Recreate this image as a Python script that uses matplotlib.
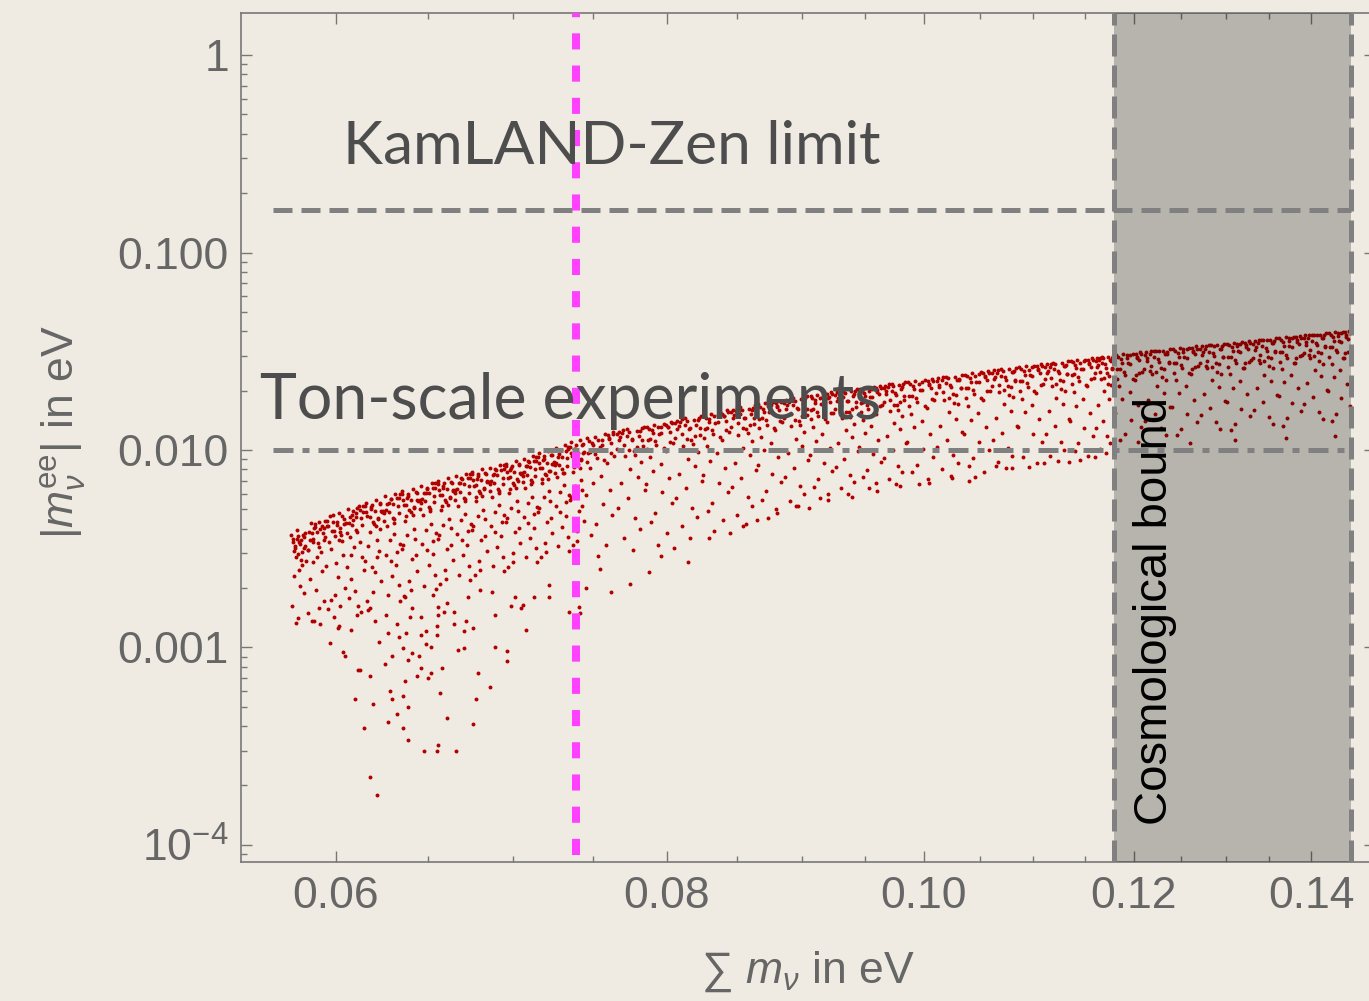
import matplotlib.pyplot as plt
from matplotlib.ticker import FixedLocator, FixedFormatter, NullFormatter, LogLocator

# -----------------------------
# Scatter points, in meV: (sum m_nu, |m_ee|)
# -----------------------------
band_left = [
    (57.82, 3.55), (58.31, 3.71), (57.95, 2.88), (58.12, 3.42), (58.44, 3.80), (57.88, 2.31), (58.05, 3.66),
    (58.27, 2.62), (57.79, 1.62), (58.38, 3.18), (58.01, 3.93), (58.19, 2.05), (57.91, 3.27), (58.47, 2.74),
    (58.09, 1.41), (58.23, 3.52), (57.85, 3.09), (58.35, 1.88), (58.14, 2.48), (57.98, 1.33),
    (58.93, 4.21), (58.61, 3.86), (59.37, 4.05), (59.08, 3.37), (58.72, 4.28), (59.44, 3.61), (58.85, 2.72),
    (59.19, 3.98), (58.56, 3.12), (59.28, 2.45), (58.99, 1.95), (59.12, 4.33), (58.67, 2.21), (59.41, 1.72),
    (58.81, 3.55), (59.25, 3.03), (58.59, 1.49), (59.03, 2.86), (59.33, 3.79), (58.77, 1.36), (59.16, 1.58),
    (58.90, 4.02),
    (59.71, 4.62), (60.18, 4.79), (59.56, 4.11), (60.42, 4.45), (59.93, 3.88), (60.07, 4.31), (59.64, 3.41),
    (60.29, 3.72), (59.84, 4.70), (60.36, 2.95), (59.52, 2.58), (60.11, 2.27), (59.78, 3.15), (60.47, 2.01),
    (59.97, 1.84), (60.24, 4.04), (59.61, 1.57), (60.02, 2.69), (59.89, 1.43), (60.33, 3.46), (59.74, 1.74),
    (60.15, 1.29),
    (60.63, 5.02), (61.21, 5.18), (60.88, 4.66), (61.44, 4.87), (60.55, 4.28), (61.06, 3.95), (61.32, 4.52),
    (60.74, 3.61), (61.13, 5.11), (60.96, 3.22), (61.39, 2.87), (60.59, 2.56), (61.27, 3.41), (60.81, 2.21),
    (61.02, 1.93), (61.47, 2.48), (60.69, 1.79), (61.17, 1.62), (60.92, 4.43), (61.36, 1.51), (60.78, 2.95),
    (61.09, 4.79),
    (61.58, 5.41), (62.13, 5.59), (61.86, 5.02), (62.38, 5.33), (61.67, 4.61), (62.04, 4.22), (62.46, 4.85),
    (61.79, 3.86), (62.21, 3.52), (61.94, 5.27), (62.31, 3.09), (61.53, 2.73), (62.09, 2.41), (61.72, 3.28),
    (62.42, 2.18), (61.99, 1.92), (62.26, 4.48), (61.63, 1.71), (62.17, 2.86), (61.83, 1.58), (62.35, 3.97),
    (61.90, 2.55),
    (62.61, 5.82), (63.19, 5.97), (62.84, 5.36), (63.41, 5.71), (62.53, 4.92), (63.07, 4.53), (63.33, 5.18),
    (62.72, 4.11), (63.14, 3.76), (62.97, 5.64), (63.46, 3.33), (62.66, 2.94), (63.24, 2.62), (62.89, 3.49),
    (63.02, 2.31), (63.38, 2.07), (62.58, 4.78), (63.29, 3.05), (62.78, 1.84), (63.11, 4.29), (62.93, 2.73),
    (63.44, 1.72),
    (63.57, 6.19), (64.16, 6.36), (63.82, 5.72), (64.37, 6.08), (63.66, 5.27), (64.03, 4.84), (64.45, 5.52),
    (63.74, 4.39), (64.22, 3.98), (63.91, 6.01), (64.29, 3.55), (63.54, 3.14), (64.11, 2.79), (63.86, 3.71),
    (64.41, 2.45), (63.97, 2.18), (64.25, 5.08), (63.62, 3.29), (64.07, 1.96), (63.78, 4.61), (64.33, 2.93),
    (63.69, 1.83),
    (64.64, 6.58), (65.22, 6.77), (64.87, 6.09), (65.43, 6.45), (64.56, 5.59), (65.08, 5.13), (65.35, 5.86),
    (64.75, 4.67), (65.16, 4.24), (64.98, 6.38), (65.47, 3.78), (64.69, 3.34), (65.27, 2.96), (64.91, 3.95),
    (65.04, 2.61), (65.39, 2.32), (64.59, 5.41), (65.31, 3.48), (64.81, 2.05), (65.13, 4.93), (64.95, 3.12),
    (65.45, 1.97),
    (65.59, 6.97), (66.14, 7.18), (65.84, 6.45), (66.38, 6.84), (65.68, 5.93), (66.05, 5.44), (66.46, 6.21),
    (65.76, 4.95), (66.23, 4.49), (65.93, 6.77), (66.31, 4.01), (65.55, 3.55), (66.09, 3.14), (65.88, 4.19),
    (66.42, 2.78), (65.98, 2.46), (66.27, 5.73), (65.63, 3.69), (66.02, 2.21), (65.80, 5.21), (66.35, 3.31),
    (65.71, 2.09),
    (66.62, 7.37), (67.20, 7.58), (66.86, 6.81), (67.42, 7.22), (66.54, 6.26), (67.06, 5.74), (67.34, 6.56),
    (66.73, 5.23), (67.15, 4.74), (66.97, 7.14), (67.48, 4.23), (66.67, 3.74), (67.26, 3.31), (66.90, 4.42),
    (67.03, 2.93), (67.39, 2.60), (66.58, 6.05), (67.30, 3.89), (66.79, 2.34), (67.11, 5.51), (66.94, 3.49),
    (67.45, 2.20),
    (67.57, 7.76), (68.15, 7.98), (67.83, 7.17), (68.37, 7.60), (67.66, 6.59), (68.04, 6.04), (68.45, 6.90),
    (67.75, 5.50), (68.22, 4.99), (67.92, 7.52), (68.30, 4.45), (67.53, 3.94), (68.10, 3.49), (67.87, 4.65),
    (68.41, 3.09), (67.97, 2.74), (68.26, 6.37), (67.61, 4.10), (68.01, 2.46), (67.79, 5.80), (68.34, 3.68),
    (67.70, 2.32),
    (68.63, 8.15), (69.21, 8.38), (68.85, 7.53), (69.43, 7.98), (68.55, 6.92), (69.07, 6.34), (69.36, 7.25),
    (68.74, 5.78), (69.17, 5.24), (68.96, 7.90), (69.47, 4.67), (68.68, 4.14), (69.28, 3.66), (68.91, 4.88),
    (69.03, 3.24), (69.39, 2.88), (68.59, 6.69), (69.31, 4.30), (68.80, 2.58), (69.12, 6.09), (68.93, 3.86),
    (69.45, 2.44),
    (69.58, 8.54), (70.16, 8.78), (69.82, 7.89), (70.37, 8.36), (69.67, 7.25), (70.04, 6.64), (70.46, 7.59),
    (69.76, 6.05), (70.23, 5.49), (69.93, 8.27), (70.31, 4.90), (69.54, 4.33), (70.10, 3.84), (69.88, 5.11),
    (70.42, 3.40), (69.98, 3.02), (70.27, 7.00), (69.62, 4.51), (70.02, 2.71), (69.79, 6.38), (70.34, 4.05),
    (69.71, 2.55),
    (70.64, 9.02), (71.21, 9.28), (70.86, 8.34), (71.43, 8.83), (70.56, 7.66), (71.07, 7.02), (71.35, 8.02),
    (70.74, 6.39), (71.16, 5.80), (70.95, 8.74), (71.47, 5.17), (70.68, 4.58), (71.27, 4.05), (70.90, 5.40),
    (71.03, 3.59), (71.39, 3.19), (70.60, 7.40), (71.30, 4.76), (70.80, 2.86), (71.12, 6.74), (70.93, 4.27),
    (71.45, 2.70),
    (71.59, 9.60), (72.15, 9.87), (71.84, 8.88), (72.38, 9.40), (71.67, 8.15), (72.04, 7.47), (72.46, 8.53),
    (71.76, 6.80), (72.22, 6.17), (71.92, 9.30), (72.30, 5.50), (71.54, 4.87), (72.10, 4.31), (71.88, 5.75),
    (72.42, 3.82), (71.97, 3.40), (72.26, 7.87), (71.62, 5.07), (72.01, 3.05), (71.79, 7.17), (72.34, 4.54),
    (71.70, 2.87),
    (72.63, 10.28), (73.21, 10.57), (72.85, 9.51), (73.42, 10.06), (72.55, 8.73), (73.06, 8.00), (73.36, 9.14),
    (72.74, 7.28), (73.17, 6.61), (72.96, 9.96), (73.48, 5.89), (72.68, 5.22), (73.27, 4.62), (72.90, 6.16),
    (73.02, 4.09), (73.39, 3.64), (72.59, 8.43), (73.30, 5.43), (72.80, 3.27), (73.12, 7.68), (72.93, 4.86),
    (73.45, 3.08),
    (73.58, 10.96), (74.16, 11.27), (73.83, 10.14), (74.37, 10.73), (73.66, 9.31), (74.04, 8.53), (74.46, 9.74),
    (73.76, 7.76), (74.23, 7.05), (73.93, 10.62), (74.31, 6.28), (73.54, 5.56), (74.10, 4.92), (73.88, 6.57),
    (74.42, 4.36), (73.97, 3.88), (74.26, 8.99), (73.62, 5.79), (74.02, 3.48), (73.79, 8.19), (74.34, 5.18),
    (73.71, 3.29),
]

# sparse points below the band on the left
tail_left = [
    (60.1, 1.25), (59.7, 1.05), (60.4, 0.95), (60.5, 0.91), (60.8, 1.23), (61.3, 0.77), (61.2, 0.77),
    (61.0, 0.55), (61.5, 0.39), (62.3, 1.06), (61.8, 0.72), (62.0, 0.52), (61.8, 0.22), (62.2, 0.18),
    (62.1, 1.36), (63.3, 1.32), (62.8, 1.18), (63.4, 1.13), (62.6, 0.82), (63.0, 0.91), (62.9, 0.60),
    (63.0, 0.55), (62.8, 0.42), (63.3, 0.46), (64.0, 1.43), (63.8, 1.18), (64.1, 0.94), (63.6, 0.99),
    (63.9, 0.86), (63.7, 0.68), (63.6, 0.57), (63.9, 0.50), (63.6, 0.39), (63.9, 0.34), (64.4, 0.72),
    (64.6, 1.43), (64.9, 1.21), (65.5, 1.16), (65.5, 1.29), (64.6, 1.16), (64.5, 0.91), (64.9, 1.04),
    (65.2, 1.01), (64.6, 0.79), (65.0, 0.70), (65.2, 0.74), (64.8, 0.30), (65.5, 0.30), (65.6, 1.46),
    (66.5, 1.32), (65.9, 1.51), (66.5, 1.51), (65.8, 0.79), (65.7, 0.59), (65.6, 0.32), (66.1, 0.44),
    (67.1, 1.21), (67.2, 1.36), (66.7, 0.97), (67.1, 0.99), (67.6, 0.41), (66.6, 0.30), (67.6, 1.25),
    (67.9, 0.74), (67.8, 0.55), (68.9, 1.46), (68.9, 1.01), (68.6, 0.63), (69.6, 0.85), (69.6, 0.96),
    (69.9, 1.62), (70.5, 1.59), (70.6, 1.65), (70.8, 1.23), (71.3, 1.80), (72.2, 1.80), (73.5, 1.51),
    (74.1, 1.60), (74.2, 1.50), (59.2, 1.32), (58.9, 1.36), (60.2, 1.62), (61.1, 1.46), (61.7, 1.55),
    (62.7, 1.46), (63.7, 1.80), (64.1, 1.59), (65.3, 1.84), (66.1, 1.68), (65.6, 1.60), (67.3, 1.80),
    (68.0, 1.95), (68.7, 1.91), (70.1, 1.80), (72.2, 2.07),
]

band_mid = [
    (74.62, 11.45), (75.81, 12.1), (75.13, 11.6), (76.35, 12.3), (74.97, 10.9), (76.08, 11.5), (75.46, 10.4),
    (74.71, 9.7), (76.22, 10.8), (75.29, 9.1), (75.93, 8.6), (74.83, 8.1), (76.44, 9.3), (75.57, 7.4),
    (75.02, 6.8), (76.14, 6.3), (74.55, 5.9), (75.69, 5.3), (76.31, 4.7), (75.21, 4.2), (74.90, 3.7),
    (75.88, 3.3), (75.38, 2.9), (76.01, 11.9), (74.78, 11.1), (75.64, 11.3),
    (78.42, 13.1), (77.27, 12.8), (77.94, 12.55), (76.73, 12.3), (78.08, 11.8), (76.96, 12.2), (77.59, 11.3),
    (78.34, 10.5), (76.81, 11.6), (77.76, 9.9), (77.12, 9.3), (78.21, 8.7), (76.59, 10.1), (77.48, 8.0),
    (78.02, 7.3), (76.89, 6.8), (78.48, 6.3), (77.37, 5.7), (76.67, 5.1), (77.84, 4.5), (78.14, 4.0),
    (77.05, 3.6), (77.67, 3.1), (77.03, 12.6), (78.26, 12.9), (77.41, 12.3),
    (78.63, 13.15), (79.78, 13.6), (79.12, 13.35), (80.29, 13.9), (78.95, 12.6), (80.06, 13.0), (79.43, 12.0),
    (78.69, 11.2), (80.21, 12.4), (79.26, 10.6), (79.91, 9.9), (78.82, 9.2), (80.43, 10.8), (79.57, 8.5),
    (79.03, 7.8), (80.14, 7.2), (78.56, 6.7), (79.66, 6.1), (80.36, 5.4), (79.19, 4.8), (78.88, 4.3),
    (79.98, 3.8), (79.37, 3.3), (79.94, 13.4), (78.77, 12.8), (79.62, 13.1),
    (82.39, 14.9), (81.26, 14.5), (81.92, 14.2), (80.69, 14.0), (82.07, 13.4), (80.95, 13.9), (81.56, 12.8),
    (82.32, 11.9), (80.82, 13.2), (81.73, 11.2), (81.11, 10.5), (82.16, 9.8), (80.58, 11.5), (81.45, 9.0),
    (81.99, 8.3), (80.88, 7.6), (82.46, 7.0), (81.33, 6.4), (80.63, 5.7), (81.80, 5.1), (82.13, 4.6),
    (81.04, 4.1), (81.65, 3.6), (81.07, 14.3), (82.24, 14.6), (81.40, 14.0),
    (82.64, 15.0), (83.79, 15.5), (83.11, 15.2), (84.26, 15.9), (82.96, 14.3), (84.08, 14.8), (83.42, 13.7),
    (82.71, 12.7), (84.19, 14.1), (83.25, 12.0), (83.92, 11.2), (82.83, 10.5), (84.44, 12.3), (83.58, 9.6),
    (83.04, 8.8), (84.13, 8.1), (82.57, 7.5), (83.69, 6.8), (84.34, 6.1), (83.22, 5.4), (82.89, 4.9),
    (83.98, 4.4), (83.36, 3.9), (83.95, 15.3), (82.78, 14.6), (83.63, 15.0),
    (86.38, 16.9), (85.23, 16.5), (85.91, 16.2), (84.72, 16.0), (86.06, 15.2), (84.93, 15.8), (85.55, 14.6),
    (86.30, 13.5), (84.80, 15.0), (85.72, 12.7), (85.10, 11.9), (86.15, 11.1), (84.57, 13.1), (85.44, 10.2),
    (85.98, 9.4), (84.85, 8.6), (86.45, 7.9), (85.33, 7.2), (84.64, 6.5), (85.81, 5.8), (86.11, 5.2),
    (85.03, 4.7), (85.66, 4.2), (85.06, 16.3), (86.21, 16.4), (85.38, 16.0),
    (86.63, 17.0), (87.76, 17.4), (87.12, 17.2), (88.29, 17.8), (86.95, 16.1), (88.06, 16.7), (87.43, 15.5),
    (86.69, 14.3), (88.21, 15.9), (87.27, 13.4), (87.90, 12.6), (86.83, 11.7), (88.42, 13.9), (87.55, 10.8),
    (87.03, 10.0), (88.13, 9.2), (86.56, 8.4), (87.66, 7.6), (88.35, 6.9), (87.20, 6.2), (86.88, 5.6),
    (87.98, 5.0), (87.36, 4.5), (87.95, 17.3), (86.78, 16.6), (87.61, 16.9),
    (90.39, 18.7), (89.25, 18.3), (89.90, 18.1), (88.73, 17.9), (90.07, 17.0), (88.95, 17.6), (89.56, 16.3),
    (90.32, 15.1), (88.81, 16.8), (89.74, 14.1), (89.12, 13.2), (90.16, 12.3), (88.59, 14.6), (89.46, 11.4),
    (89.99, 10.5), (88.88, 9.7), (90.45, 8.9), (89.35, 8.1), (88.65, 7.3), (89.79, 6.6), (90.13, 6.0),
    (89.03, 5.5), (89.65, 5.2), (89.07, 18.2), (90.23, 18.3), (89.39, 17.8),
    (90.64, 18.8), (91.78, 19.2), (91.11, 19.0), (92.27, 19.6), (90.96, 17.9), (92.07, 18.5), (91.43, 17.1),
    (90.71, 15.9), (92.20, 17.6), (91.25, 14.8), (91.91, 13.9), (90.82, 13.0), (92.44, 15.4), (91.57, 12.0),
    (91.03, 11.1), (92.15, 10.2), (90.57, 9.4), (91.68, 8.6), (92.36, 7.8), (91.22, 7.1), (90.90, 6.5),
    (91.99, 6.0), (91.37, 5.7), (91.96, 19.1), (90.79, 18.4), (91.63, 18.7),
    (94.38, 20.4), (93.23, 20.0), (93.91, 19.8), (92.72, 19.6), (94.05, 18.7), (92.94, 19.3), (93.56, 17.8),
    (94.31, 16.6), (92.79, 18.4), (93.73, 15.5), (93.11, 14.5), (94.16, 13.6), (92.57, 16.1), (93.44, 12.6),
    (93.98, 11.7), (92.86, 10.8), (94.45, 9.9), (93.34, 9.0), (92.63, 8.2), (93.80, 7.5), (94.12, 6.9),
    (93.03, 6.4), (93.65, 6.0), (93.06, 19.9), (94.21, 20.0), (93.39, 19.5),
    (94.63, 20.4), (95.76, 20.8), (95.12, 20.6), (96.29, 21.2), (94.94, 19.5), (96.05, 20.1), (95.43, 18.6),
    (94.70, 17.3), (96.19, 19.2), (95.26, 16.2), (95.90, 15.2), (94.83, 14.2), (96.42, 16.8), (95.55, 13.2),
    (95.01, 12.2), (96.13, 11.3), (94.56, 10.4), (95.67, 9.5), (96.35, 8.7), (95.21, 7.9), (94.87, 7.3),
    (95.98, 6.8), (95.36, 6.4), (95.95, 20.7), (94.78, 20.0), (95.62, 20.3),
    (98.39, 22.0), (97.26, 21.6), (97.90, 21.4), (96.73, 21.2), (98.07, 20.3), (96.93, 20.9), (97.55, 19.4),
    (98.32, 18.0), (96.80, 19.9), (97.72, 16.9), (97.08, 15.8), (98.15, 14.8), (96.59, 17.5), (97.46, 13.7),
    (97.98, 12.7), (96.88, 11.8), (98.46, 10.9), (97.36, 10.0), (96.64, 9.1), (97.81, 8.3), (98.11, 7.7),
    (97.03, 7.1), (97.63, 6.7), (97.04, 21.5), (98.23, 21.6), (97.40, 21.1),
]

band_right = [
    (98.66, 22.0), (100.08, 22.5), (99.28, 22.3), (100.74, 23.0), (99.06, 21.1), (100.44, 21.7), (99.66, 20.1),
    (98.75, 18.7), (100.63, 20.6), (99.45, 17.5), (100.25, 16.3), (98.94, 15.2), (100.91, 18.0), (99.82, 14.1),
    (99.16, 13.0), (100.55, 12.0), (98.58, 11.0), (99.96, 10.1), (100.83, 9.2), (99.38, 8.4), (99.00, 7.7),
    (100.36, 7.1), (99.58, 6.7), (100.33, 22.4), (98.85, 21.7), (99.89, 22.1),
    (103.34, 24.0), (101.92, 23.5), (102.72, 23.5), (101.26, 23.1), (102.94, 22.6), (101.56, 22.5),
    (102.34, 21.4), (103.25, 20.6), (101.37, 21.4), (102.55, 19.2), (101.75, 18.0), (103.06, 17.0),
    (101.09, 19.4), (102.18, 15.6), (102.84, 14.4), (101.45, 13.3), (103.42, 12.3), (102.04, 11.3),
    (101.17, 10.3), (102.62, 9.4), (103.00, 8.6), (101.64, 8.0), (102.42, 7.4), (101.67, 23.3),
    (103.15, 22.9), (102.11, 23.1),
    (103.66, 24.1), (105.08, 24.7), (104.28, 24.4), (105.74, 25.2), (104.06, 23.1), (105.44, 23.8),
    (104.66, 22.0), (103.75, 20.5), (105.63, 22.6), (104.45, 19.1), (105.25, 17.9), (103.94, 16.7),
    (105.91, 19.8), (104.82, 15.4), (104.16, 14.2), (105.55, 13.1), (103.58, 12.0), (104.96, 11.0),
    (105.83, 10.0), (104.38, 9.1), (104.00, 8.3), (105.36, 7.7), (104.58, 7.3), (105.33, 24.6),
    (103.85, 23.8), (104.89, 24.3),
    (108.34, 26.1), (106.92, 25.7), (107.72, 25.6), (106.26, 25.3), (107.94, 24.7), (106.56, 24.5),
    (107.34, 23.4), (108.25, 22.5), (106.37, 23.3), (107.55, 21.0), (106.75, 19.7), (108.06, 18.5),
    (106.09, 21.1), (107.18, 17.0), (107.84, 15.7), (106.45, 14.5), (108.42, 13.3), (107.04, 12.2),
    (106.17, 11.2), (107.62, 10.2), (108.00, 9.3), (106.64, 8.7), (107.42, 8.1), (106.67, 25.4),
    (108.15, 25.0), (107.11, 25.2),
    (108.66, 26.2), (110.08, 26.7), (109.28, 26.5), (110.74, 27.2), (109.06, 25.1), (110.44, 25.8),
    (109.66, 23.9), (108.75, 22.3), (110.63, 24.6), (109.45, 20.8), (110.25, 19.5), (108.94, 18.2),
    (110.91, 21.6), (109.82, 16.8), (109.16, 15.5), (110.55, 14.3), (108.58, 13.1), (109.96, 12.0),
    (110.83, 11.0), (109.38, 10.0), (109.00, 9.2), (110.36, 8.6), (109.58, 8.2), (110.33, 26.6),
    (108.85, 25.8), (109.89, 26.3),
    (113.34, 28.1), (111.92, 27.7), (112.72, 27.6), (111.26, 27.3), (112.94, 26.6), (111.56, 26.4),
    (112.34, 25.2), (113.25, 24.2), (111.37, 25.1), (112.55, 22.7), (111.75, 21.2), (113.06, 19.9),
    (111.09, 22.8), (112.18, 18.4), (112.84, 17.0), (111.45, 15.7), (113.42, 14.4), (112.04, 13.2),
    (111.17, 12.1), (112.62, 11.0), (113.00, 10.0), (111.64, 9.3), (112.42, 8.8), (111.67, 27.4),
    (113.15, 27.0), (112.11, 27.2),
    (113.66, 28.2), (115.08, 28.7), (114.28, 28.5), (115.74, 29.2), (114.06, 27.0), (115.44, 27.7),
    (114.66, 25.7), (113.75, 24.0), (115.63, 26.4), (114.45, 22.4), (115.25, 21.0), (113.94, 19.6),
    (115.91, 23.2), (114.82, 18.1), (114.16, 16.7), (115.55, 15.4), (113.58, 14.1), (114.96, 12.9),
    (115.83, 11.8), (114.38, 10.8), (114.00, 9.9), (115.36, 9.3), (114.58, 8.9), (115.33, 28.6),
    (113.85, 27.8), (114.89, 28.3),
    (117.87, 30.0), (116.74, 29.6), (117.38, 29.6), (116.21, 29.3), (117.55, 28.6), (116.45, 28.4),
    (117.07, 27.1), (117.80, 26.0), (116.30, 27.0), (117.24, 24.4), (116.60, 22.8), (117.65, 21.3),
    (116.07, 24.5), (116.94, 19.8), (117.47, 18.2), (116.36, 16.8), (117.94, 15.4), (116.83, 14.1),
    (116.14, 12.9), (117.30, 11.8), (117.60, 10.8), (116.51, 10.1), (117.14, 9.6), (116.54, 29.4),
    (117.72, 29.1), (116.89, 29.3),
]

band_cosmo = [
    (118.19, 30.2), (119.90, 30.8), (118.94, 30.6), (120.69, 31.3), (118.67, 29.0), (120.33, 29.7),
    (119.39, 27.6), (118.30, 25.8), (120.56, 28.4), (119.14, 24.1), (120.10, 22.6), (118.53, 21.1),
    (120.89, 24.9), (119.58, 19.6), (118.79, 18.1), (120.46, 16.8), (118.10, 15.4), (119.75, 14.2),
    (120.80, 13.0), (119.06, 12.0), (118.60, 11.2), (120.23, 24.0), (119.30, 30.1), (120.20, 30.6),
    (118.42, 29.6), (119.67, 30.2),
    (123.81, 32.4), (122.10, 31.8), (123.06, 31.7), (121.31, 31.4), (123.33, 30.5), (121.67, 30.5),
    (122.61, 29.0), (123.70, 27.8), (121.44, 29.3), (122.86, 25.9), (121.90, 24.3), (123.47, 22.7),
    (121.11, 25.7), (122.42, 21.1), (123.21, 19.5), (121.54, 18.0), (123.90, 16.6), (122.25, 15.3),
    (121.20, 14.0), (122.94, 12.9), (123.40, 11.9), (121.77, 25.0), (122.70, 31.6), (121.80, 31.6),
    (123.58, 31.4), (122.33, 31.7),
    (124.19, 32.4), (125.90, 33.0), (124.94, 32.8), (126.69, 33.5), (124.67, 31.1), (126.33, 31.9),
    (125.39, 29.6), (124.30, 27.7), (126.56, 30.5), (125.14, 25.9), (126.10, 24.2), (124.53, 22.6),
    (126.89, 26.7), (125.58, 21.0), (124.79, 19.4), (126.46, 18.0), (124.10, 16.5), (125.75, 15.2),
    (126.80, 13.9), (125.06, 12.8), (124.60, 11.9), (126.23, 25.7), (125.30, 32.3), (126.20, 32.8),
    (124.42, 31.8), (125.67, 32.4),
    (129.81, 34.6), (128.10, 34.0), (129.06, 33.9), (127.31, 33.6), (129.33, 32.6), (127.67, 32.6),
    (128.61, 31.0), (129.70, 29.7), (127.44, 31.3), (128.86, 27.7), (127.90, 26.0), (129.47, 24.3),
    (127.11, 27.5), (128.42, 22.6), (129.21, 20.9), (127.54, 19.3), (129.90, 17.8), (128.25, 16.4),
    (127.20, 15.0), (128.94, 13.8), (129.40, 12.7), (127.77, 26.7), (128.70, 33.8), (127.80, 33.8),
    (129.58, 33.6), (128.33, 33.9),
    (130.19, 34.6), (131.90, 35.2), (130.94, 35.0), (132.69, 35.7), (130.67, 33.2), (132.33, 34.0),
    (131.39, 31.6), (130.30, 29.6), (132.56, 32.6), (131.14, 27.7), (132.10, 25.9), (130.53, 24.2),
    (132.89, 28.5), (131.58, 22.4), (130.79, 20.7), (132.46, 19.2), (130.10, 17.6), (131.75, 16.2),
    (132.80, 14.8), (131.06, 13.6), (130.60, 12.6), (132.23, 27.5), (131.30, 34.5), (132.20, 35.0),
    (130.42, 34.0), (131.67, 34.6),
    (135.81, 36.8), (134.10, 36.2), (135.06, 36.1), (133.31, 35.8), (135.33, 34.7), (133.67, 34.7),
    (134.61, 33.0), (135.70, 31.6), (133.44, 33.3), (134.86, 29.5), (133.90, 27.6), (135.47, 25.9),
    (133.11, 29.3), (134.42, 24.1), (135.21, 22.3), (133.54, 20.6), (135.90, 19.0), (134.25, 17.4),
    (133.20, 16.0), (134.94, 14.7), (135.40, 13.5), (133.77, 28.4), (134.70, 36.0), (133.80, 36.0),
    (135.58, 35.8), (134.33, 36.1),
    (136.19, 36.8), (137.90, 37.4), (136.94, 37.2), (138.69, 37.9), (136.67, 35.3), (138.33, 36.1),
    (137.39, 33.6), (136.30, 31.5), (138.56, 34.6), (137.14, 29.4), (138.10, 27.6), (136.53, 25.8),
    (138.89, 30.4), (137.58, 23.9), (136.79, 22.1), (138.46, 20.5), (136.10, 18.8), (137.75, 17.3),
    (138.80, 15.8), (137.06, 14.5), (136.60, 13.3), (138.23, 29.3), (137.30, 36.7), (138.20, 37.2),
    (136.42, 36.2), (137.67, 36.8),
    (141.81, 39.0), (140.10, 38.4), (141.06, 38.3), (139.31, 38.0), (141.33, 36.8), (139.67, 36.8),
    (140.61, 35.0), (141.70, 33.5), (139.44, 35.3), (140.86, 31.3), (139.90, 29.3), (141.47, 27.4),
    (139.11, 31.1), (140.42, 25.5), (141.21, 23.6), (139.54, 21.8), (141.90, 20.1), (140.25, 18.5),
    (139.20, 17.0), (140.94, 15.6), (141.40, 14.3), (139.77, 30.1), (140.70, 38.2), (139.80, 38.2),
    (141.58, 38.0), (140.33, 38.3),
    (142.19, 39.0), (143.90, 39.6), (142.94, 39.4), (144.69, 40.0), (142.67, 37.4), (144.33, 38.2),
    (143.39, 35.6), (142.30, 33.4), (144.56, 36.6), (143.14, 31.2), (144.10, 29.2), (142.53, 27.3),
    (144.89, 32.2), (143.58, 25.3), (142.79, 23.4), (144.46, 21.7), (142.10, 19.9), (143.75, 18.3),
    (144.80, 16.7), (143.06, 15.3), (142.60, 14.0), (144.23, 31.0), (143.30, 38.9), (144.20, 39.4),
    (142.42, 38.4), (143.67, 39.0),
]

# extra points filling the dark strip just under the upper edge
band_top = [
    (57.80, 3.42), (58.08, 2.96), (58.36, 3.61), (57.93, 3.19), (58.23, 2.77), (57.74, 3.69), (58.43, 3.27),
    (58.00, 3.53), (58.29, 3.04), (58.16, 3.34),
    (58.84, 3.44), (59.28, 4.14), (58.58, 3.11), (59.05, 3.83), (59.43, 4.38), (58.68, 3.51), (59.14, 3.21),
    (58.93, 4.07), (59.37, 3.51), (58.76, 3.79),
    (59.62, 4.10), (59.97, 3.67), (60.33, 4.63), (59.79, 3.89), (60.16, 3.50), (59.55, 4.39), (60.41, 4.22),
    (59.88, 4.34), (60.24, 3.86), (60.07, 4.19),
    (60.84, 4.17), (61.28, 4.94), (60.58, 3.79), (61.05, 4.60), (61.43, 5.21), (60.68, 4.27), (61.14, 3.86),
    (60.93, 4.92), (61.37, 4.19), (60.76, 4.60),
    (61.62, 4.86), (61.97, 4.32), (62.33, 5.40), (61.79, 4.59), (62.16, 4.10), (61.55, 5.21), (62.41, 4.91),
    (61.88, 5.12), (62.24, 4.52), (62.07, 4.91),
    (62.84, 4.83), (63.28, 5.70), (62.58, 4.39), (63.05, 5.31), (63.43, 6.00), (62.68, 4.95), (63.14, 4.45),
    (62.93, 5.68), (63.37, 4.82), (62.76, 5.32),
    (63.62, 5.58), (63.97, 4.95), (64.33, 6.16), (63.79, 5.27), (64.16, 4.68), (63.55, 5.98), (64.41, 5.60),
    (63.88, 5.86), (64.24, 5.16), (64.07, 5.61),
    (64.84, 5.49), (65.28, 6.45), (64.58, 5.00), (65.05, 6.03), (65.43, 6.78), (64.68, 5.63), (65.14, 5.04),
    (64.93, 6.45), (65.37, 5.45), (64.76, 6.05),
    (65.62, 6.30), (65.97, 5.57), (66.33, 6.92), (65.79, 5.94), (66.16, 5.26), (65.55, 6.76), (66.41, 6.29),
    (65.88, 6.60), (66.24, 5.80), (66.07, 6.32),
    (66.84, 6.14), (67.28, 7.20), (66.58, 5.61), (67.05, 6.74), (67.43, 7.57), (66.68, 6.31), (67.14, 5.63),
    (66.93, 7.22), (67.37, 6.08), (66.76, 6.78),
    (67.62, 7.02), (67.97, 6.19), (68.33, 7.68), (67.79, 6.61), (68.16, 5.85), (67.55, 7.54), (68.41, 6.97),
    (67.88, 7.35), (68.24, 6.44), (68.07, 7.02),
    (68.84, 6.80), (69.28, 7.95), (68.58, 6.22), (69.05, 7.45), (69.43, 8.35), (68.68, 6.99), (69.14, 6.22),
    (68.93, 7.99), (69.37, 6.72), (68.76, 7.51),
    (69.62, 7.74), (69.97, 6.83), (70.33, 8.46), (69.79, 7.28), (70.16, 6.45), (69.55, 8.31), (70.41, 7.68),
    (69.88, 8.10), (70.24, 7.09), (70.07, 7.74),
    (70.84, 7.49), (71.28, 8.78), (70.58, 6.85), (71.05, 8.21), (71.43, 9.23), (70.68, 7.70), (71.14, 6.87),
    (70.93, 8.81), (71.37, 7.42), (70.76, 8.27),
    (71.62, 8.56), (71.97, 7.56), (72.33, 9.39), (71.79, 8.06), (72.16, 7.15), (71.55, 9.20), (72.41, 8.53),
    (71.88, 8.97), (72.24, 7.86), (72.07, 8.58),
    (72.84, 8.35), (73.28, 9.83), (72.58, 7.62), (73.05, 9.18), (73.43, 10.35), (72.68, 8.57), (73.14, 7.67),
    (72.93, 9.83), (73.37, 8.31), (72.76, 9.22),
    (73.62, 9.61), (73.97, 8.53), (74.33, 10.62), (73.79, 9.07), (74.16, 8.07), (73.55, 10.32), (74.41, 9.67),
    (73.88, 10.11), (74.24, 8.90), (74.07, 9.68),
    (75.18, 9.57), (76.06, 11.43), (74.66, 8.66), (75.60, 10.60), (76.36, 12.07), (74.86, 9.78), (75.78, 8.88),
    (75.36, 11.30), (76.24, 9.69), (75.02, 10.55),
    (76.74, 11.25), (77.44, 9.97), (78.16, 12.41), (77.08, 10.61), (77.82, 9.44), (76.60, 12.07), (78.32, 11.29),
    (77.26, 11.81), (77.98, 10.39), (77.64, 11.32),
    (79.18, 11.08), (80.06, 13.07), (78.66, 10.09), (79.60, 12.19), (80.36, 13.76), (78.86, 11.36),
    (79.78, 10.20), (79.36, 13.05), (80.24, 11.04), (79.02, 12.22),
    (80.74, 12.79), (81.44, 11.35), (82.16, 14.15), (81.08, 12.08), (81.82, 10.75), (80.60, 13.73),
    (82.32, 12.87), (81.26, 13.45), (81.98, 11.84), (81.64, 12.88),
    (83.18, 12.62), (84.06, 14.88), (82.66, 11.50), (83.60, 13.88), (84.36, 15.66), (82.86, 12.95),
    (83.78, 11.61), (83.36, 14.86), (84.24, 12.58), (83.02, 13.93),
    (84.74, 14.54), (85.44, 12.85), (86.16, 15.96), (85.08, 13.70), (85.82, 12.15), (84.60, 15.62),
    (86.32, 14.51), (85.26, 15.24), (85.98, 13.38), (85.64, 14.57),
    (87.18, 14.15), (88.06, 16.59), (86.66, 12.94), (87.60, 15.53), (88.36, 17.43), (86.86, 14.54),
    (87.78, 12.97), (87.36, 16.65), (88.24, 14.01), (87.02, 15.63),
    (88.74, 16.16), (89.44, 14.25), (90.16, 17.67), (89.08, 15.21), (89.82, 13.46), (88.60, 17.36),
    (90.32, 16.06), (89.26, 16.92), (89.98, 14.82), (89.64, 16.16),
    (91.18, 15.61), (92.06, 18.25), (90.66, 14.30), (91.60, 17.11), (92.36, 19.15), (90.86, 16.07),
    (91.78, 14.27), (91.36, 18.36), (92.24, 15.40), (91.02, 17.26),
    (92.74, 17.73), (93.44, 15.58), (94.16, 19.25), (93.08, 16.66), (93.82, 14.69), (92.60, 19.05),
    (94.32, 17.48), (93.26, 18.51), (93.98, 16.15), (93.64, 17.65),
    (95.18, 16.95), (96.06, 19.76), (94.66, 15.55), (95.60, 18.55), (96.36, 20.72), (94.86, 17.46),
    (95.78, 15.47), (95.36, 19.91), (96.24, 16.67), (95.02, 18.76),
    (96.74, 19.17), (97.44, 16.83), (98.16, 20.77), (97.08, 18.00), (97.82, 15.86), (96.60, 20.60),
    (98.32, 18.86), (97.26, 20.00), (97.98, 17.43), (97.64, 19.06),
    (99.35, 18.32), (100.45, 21.41), (98.70, 16.78), (99.88, 20.07), (100.83, 22.47), (98.95, 18.85),
    (100.10, 16.75), (99.58, 21.53), (100.68, 18.07), (99.15, 20.26),
    (101.30, 20.82), (102.18, 18.35), (103.08, 22.71), (101.73, 19.59), (102.65, 17.32), (101.13, 22.37),
    (103.28, 20.64), (101.95, 21.78), (102.85, 19.05), (102.43, 20.79),
    (104.35, 20.07), (105.45, 23.46), (103.70, 18.38), (104.88, 21.99), (105.83, 24.62), (103.95, 20.66),
    (105.10, 18.35), (104.58, 23.59), (105.68, 19.80), (104.15, 22.19),
    (106.30, 22.79), (107.18, 20.02), (108.08, 24.73), (106.73, 21.41), (107.65, 18.88), (106.13, 24.49),
    (108.28, 22.45), (106.95, 23.79), (107.85, 20.75), (107.43, 22.68),
    (109.35, 21.76), (110.45, 25.36), (108.70, 19.97), (109.88, 23.81), (110.83, 26.59), (108.95, 22.42),
    (110.10, 19.86), (109.58, 25.56), (110.68, 21.39), (109.15, 24.08),
    (111.30, 24.59), (112.18, 21.58), (113.08, 26.63), (111.73, 23.09), (112.65, 20.34), (111.13, 26.43),
    (113.28, 24.17), (111.95, 25.65), (112.85, 22.35), (112.43, 24.44),
    (114.35, 23.40), (115.45, 27.24), (113.70, 21.49), (114.88, 25.59), (115.83, 28.55), (113.95, 24.12),
    (115.10, 21.34), (114.58, 27.48), (115.68, 22.97), (114.15, 25.90),
    (116.24, 26.37), (116.94, 23.07), (117.66, 28.37), (116.58, 24.72), (117.32, 21.70), (116.10, 28.36),
    (117.82, 25.74), (116.76, 27.44), (117.48, 23.83), (117.14, 26.10),
    (119.02, 24.94), (120.34, 29.08), (118.24, 22.88), (119.65, 27.29), (120.79, 30.50), (118.54, 25.69),
    (119.92, 22.77), (119.29, 29.30), (120.61, 24.52), (118.78, 27.58),
    (121.36, 28.20), (122.41, 24.74), (123.49, 30.50), (121.87, 26.48), (122.98, 23.31), (121.15, 30.32),
    (123.73, 27.69), (122.14, 29.41), (123.22, 25.61), (122.71, 28.01),
    (125.02, 26.79), (126.34, 31.17), (124.24, 24.62), (125.65, 29.29), (126.79, 32.65), (124.54, 27.63),
    (125.92, 24.42), (125.29, 31.46), (126.61, 26.28), (124.78, 29.66),
    (127.36, 30.18), (128.41, 26.46), (129.49, 32.59), (127.87, 28.32), (128.98, 24.91), (127.15, 32.46),
    (129.73, 29.58), (128.14, 31.45), (129.22, 27.37), (128.71, 29.95),
    (131.02, 28.59), (132.34, 33.24), (130.24, 26.29), (131.65, 31.25), (132.79, 34.81), (130.54, 29.50),
    (131.92, 26.05), (131.29, 33.57), (132.61, 28.01), (130.78, 31.66),
    (133.36, 32.16), (134.41, 28.17), (135.49, 34.68), (133.87, 30.17), (134.98, 26.52), (133.15, 34.59),
    (135.73, 31.48), (134.14, 33.50), (135.22, 29.13), (134.71, 31.88),
    (137.02, 30.40), (138.34, 35.31), (136.24, 27.96), (137.65, 33.21), (138.79, 36.97), (136.54, 31.37),
    (137.92, 27.68), (137.29, 35.68), (138.61, 29.75), (136.78, 33.66),
    (139.36, 34.14), (140.41, 29.89), (141.49, 36.77), (139.87, 32.02), (140.98, 28.13), (139.15, 36.72),
    (141.73, 33.37), (140.14, 35.54), (141.22, 30.89), (140.71, 33.82),
    (143.02, 32.20), (144.34, 37.37), (142.24, 29.63), (143.65, 35.16), (144.79, 39.12), (142.54, 33.24),
    (143.92, 29.30), (143.29, 37.80), (144.61, 31.49), (142.78, 35.66),
]

# sparse points under the band, middle and right
tail_right = [
    (74.6, 2.0), (75.5, 2.5), (76.2, 1.9), (77.5, 2.1), (78.8, 2.4), (79.6, 2.9), (80.5, 3.2), (81.5, 2.7),
    (83.0, 3.6), (84.5, 3.8), (85.5, 4.1), (86.5, 4.4), (88.0, 4.8), (89.5, 5.2), (90.5, 5.1), (92.0, 5.6),
    (94.0, 5.8), (96.0, 6.2), (98.0, 6.6), (100.5, 6.8), (102.5, 7.2), (104.0, 7.0), (106.5, 8.3),
    (108.0, 8.1), (111.0, 8.6), (113.5, 8.7), (116.0, 9.2), (120.5, 11.0), (126.0, 10.9), (131.0, 11.2),
    (137.0, 11.5), (143.0, 11.8),
]

# limits / bounds (eV)
kamland_limit = 0.165
ton_scale = 0.01
cosmo_bound = 0.118
cosmo_edge = 0.145
magenta_x = 0.0739
line_start = 0.0568

x_ticks = [0.06, 0.08, 0.10, 0.12, 0.14]
x_tick_labels = ["0.06", "0.08", "0.10", "0.12", "0.14"]
x_minor = [0.065, 0.07, 0.075, 0.085, 0.09, 0.095, 0.105, 0.11, 0.115, 0.125, 0.13, 0.135, 0.145]
y_ticks = [1e-4, 1e-3, 1e-2, 1e-1, 1]
y_tick_labels = [r"$10^{-4}$", "0.001", "0.010", "0.100", "1"]

# -----------------------------
# Style
# -----------------------------
bg = "#efebe2"
tick_col = "#666666"
line_gray = "#808080"
plt.rcParams["font.family"] = ["Liberation Sans", "DejaVu Sans"]
plt.rcParams["mathtext.fontset"] = "custom"
plt.rcParams["mathtext.rm"] = "Liberation Sans"
plt.rcParams["mathtext.it"] = "Liberation Sans:italic"

fig = plt.figure(figsize=(13.69, 10.01), dpi=100, facecolor=bg)
ax = fig.add_axes([0.1763, 0.1389, 0.8281, 0.8485])
ax.set_facecolor(bg)
ax.set_xscale("log")
ax.set_yscale("log")
ax.set_xlim(0.05528, 0.148)
ax.set_ylim(8.2e-5, 1.64)

# scatter
all_pts = band_left + tail_left + band_mid + band_right + band_cosmo + band_top + tail_right
xs = [p[0] / 1000 for p in all_pts]
ys = [p[1] / 1000 for p in all_pts]
ax.scatter(xs, ys, s=8, c="#b00000", linewidths=0, zorder=2)

# cosmological excluded region
ax.axvspan(cosmo_bound, cosmo_edge, color="black", alpha=0.23, lw=0, zorder=3)
for xv in (cosmo_bound, cosmo_edge):
    ax.axvline(xv, color=line_gray, lw=3.6, dashes=(4.4, 1.8), zorder=4)

# experimental limits
ax.plot([line_start, cosmo_edge], [kamland_limit, kamland_limit], color=line_gray, lw=3.6,
        dashes=(3.8, 1.8), zorder=4)
ax.plot([line_start, cosmo_edge], [ton_scale, ton_scale], color=line_gray, lw=3.6,
        dashes=(4.0, 1.8, 1.4, 1.8), zorder=4)
ax.axvline(magenta_x, ymin=0.008, ymax=1.0, color="#ff40ff", lw=5.8, dashes=(2, 2), zorder=5)

# annotations
ax.text(0.0897, 0.822, "KamLAND-Zen limit", transform=ax.transAxes, fontsize=43.5,
        family="Lato", color="#4d4d4d", ha="left", va="baseline", zorder=6)
ax.text(0.0165, 0.5216, "Ton-scale experiments", transform=ax.transAxes, fontsize=45,
        family="Lato", color="#4d4d4d", ha="left", va="baseline", zorder=6)
ax.text(0.1223, 1.53e-3, "Cosmological bound", rotation=90, fontsize=34, color="black",
        ha="center", va="center", zorder=6)

# ticks
ax.xaxis.set_major_locator(FixedLocator(x_ticks))
ax.xaxis.set_major_formatter(FixedFormatter(x_tick_labels))
ax.xaxis.set_minor_locator(FixedLocator(x_minor))
ax.xaxis.set_minor_formatter(NullFormatter())
ax.yaxis.set_major_locator(FixedLocator(y_ticks))
ax.yaxis.set_major_formatter(FixedFormatter(y_tick_labels))
ax.yaxis.set_minor_locator(LogLocator(base=10, subs=range(2, 10), numticks=20))
ax.yaxis.set_minor_formatter(NullFormatter())
ax.tick_params(which="both", direction="in", top=True, right=True, colors="#777777",
               labelcolor=tick_col, labelsize=32, width=1.0)
ax.tick_params(which="major", length=8)
ax.tick_params(which="minor", length=4.5)
ax.tick_params(axis="y", pad=9)
ax.tick_params(axis="x", pad=10)
for sp in ax.spines.values():
    sp.set_color("#777777")
    sp.set_linewidth(1.2)

ax.set_xlabel("∑ $m_\\nu$ in eV", fontsize=32, color=tick_col)
ax.xaxis.set_label_coords(0.5, -0.103)
ax.set_ylabel("$|m_\\nu^{\\mathrm{ee}}|$ in eV", fontsize=32, color=tick_col)
ax.yaxis.set_label_coords(-0.135, 0.506)

fig.savefig("out.png", dpi=100, facecolor=bg)
